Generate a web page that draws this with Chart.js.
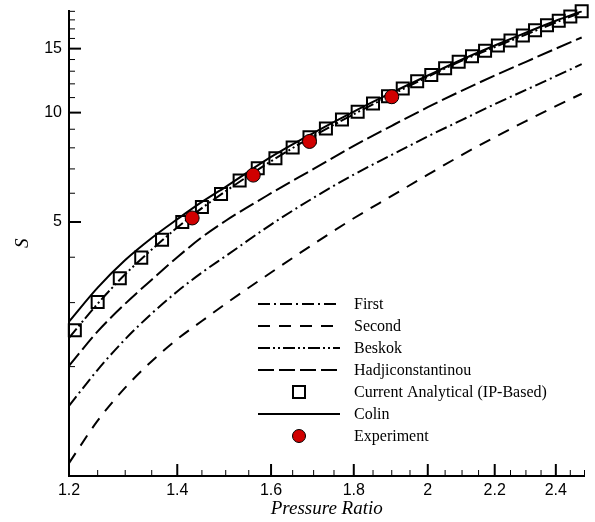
<!DOCTYPE html>
<html>
<head>
<meta charset="utf-8">
<script src="https://cdn.jsdelivr.net/npm/chart.js@4/dist/chart.umd.min.js"></script>
<style>
  html, body { margin: 0; padding: 0; background: #fff; }
</style>
</head>
<body>
<canvas id="myChart" width="595" height="522"></canvas>
<script>
// pressure ratio grid of the model curves
var pressure = [1.2, 1.25, 1.3, 1.35, 1.4, 1.45, 1.5, 1.6, 1.7, 1.8, 1.9, 2.0, 2.1, 2.2, 2.3, 2.4, 2.49];
var first  = [1.56, 1.96, 2.38, 2.80, 3.22, 3.63, 4.03, 4.92, 5.83, 6.75, 7.65, 8.60, 9.55, 10.55, 11.55, 12.6, 13.6];
var second = [1.085, 1.42, 1.75, 2.07, 2.38, 2.67, 2.98, 3.63, 4.35, 5.12, 5.90, 6.75, 7.65, 8.56, 9.48, 10.42, 11.27];
var beskok = [2.40, 2.98, 3.59, 4.20, 4.83, 5.46, 6.08, 7.35, 8.63, 9.90, 11.2, 12.55, 13.9, 15.15, 16.4, 17.7, 18.9];
var hadji  = [2.01, 2.50, 2.98, 3.47, 4.00, 4.54, 5.04, 6.00, 7.00, 8.10, 9.20, 10.35, 11.5, 12.65, 13.8, 15.0, 16.1];
var colin  = [2.66, 3.30, 3.93, 4.52, 5.09, 5.68, 6.25, 7.55, 8.80, 10.07, 11.35, 12.65, 14.0, 15.3, 16.6, 17.9, 19.0];

// current analytical (IP-based) markers
var currentP = [1.21, 1.25, 1.29, 1.33, 1.37, 1.41, 1.45, 1.49, 1.53, 1.57, 1.61, 1.65, 1.69, 1.73, 1.77, 1.81, 1.85,
                1.89, 1.93, 1.97, 2.01, 2.05, 2.09, 2.13, 2.17, 2.21, 2.25, 2.29, 2.33, 2.37, 2.41, 2.45, 2.49];
var currentS = [2.52, 3.01, 3.50, 3.99, 4.47, 5.00, 5.50, 5.97, 6.50, 7.03, 7.49, 8.02, 8.55, 9.04, 9.57, 10.06, 10.6,
                11.1, 11.65, 12.2, 12.7, 13.25, 13.8, 14.3, 14.8, 15.3, 15.8, 16.3, 16.85, 17.4, 17.9, 18.4, 19.0];

// experiment
var expP = [1.43, 1.56, 1.69, 1.90];
var expS = [5.13, 6.73, 8.33, 11.06];

// ticks
var xMajor = [1.2, 1.4, 1.6, 1.8, 2, 2.2, 2.4];
var xMinor = [1.25, 1.3, 1.35, 1.45, 1.5, 1.55, 1.65, 1.7, 1.75, 1.85, 1.9, 1.95, 2.05, 2.1, 2.15, 2.25, 2.3, 2.35, 2.45, 2.5];
var yMajor = [5, 10, 15];
var yMinor = [2, 3, 4, 6, 7, 8, 9, 11, 12, 13, 14, 16, 17, 18, 19];

function pairs(xs, ys) {
    var out = [];
    for (var i = 0; i < xs.length; i++) {
        out.push({x: xs[i], y: ys[i]});
    }
    return out;
}

function lineSet(label, values, dash) {
    return {
        label: label,
        data: pairs(pressure, values),
        showLine: true,
        borderColor: '#000',
        borderWidth: 2,
        borderDash: dash,
        pointRadius: 0,
        cubicInterpolationMode: 'monotone',
        fill: false
    };
}

// tick marks point into the plot, so they are drawn here
var innerTicks = {
    id: 'innerTicks',
    afterDatasetsDraw: function(chart) {
        var ctx = chart.ctx;
        var xs = chart.scales.x, ys = chart.scales.y;
        var a = chart.chartArea;
        ctx.save();
        ctx.strokeStyle = '#000';
        ctx.setLineDash([]);
        function xMarks(list, len, lw) {
            ctx.lineWidth = lw;
            list.forEach(function(v) {
                var px = xs.getPixelForValue(v);
                ctx.beginPath();
                ctx.moveTo(px, a.bottom);
                ctx.lineTo(px, a.bottom - len);
                ctx.stroke();
            });
        }
        function yMarks(list, len, lw) {
            ctx.lineWidth = lw;
            list.forEach(function(v) {
                var py = ys.getPixelForValue(v);
                ctx.beginPath();
                ctx.moveTo(a.left, py);
                ctx.lineTo(a.left + len, py);
                ctx.stroke();
            });
        }
        xMarks(xMajor, 12, 2);
        xMarks(xMinor, 6, 1);
        yMarks(yMajor, 12, 2);
        yMarks(yMinor, 6, 1);
        ctx.restore();
    }
};

// legend box inside the plot, lower right
var boxLegend = {
    id: 'boxLegend',
    afterDraw: function(chart) {
        var ctx = chart.ctx;
        ctx.save();
        ctx.font = '16px "Liberation Serif"';
        ctx.textBaseline = 'middle';
        ctx.fillStyle = '#000';
        chart.data.datasets.forEach(function(ds, i) {
            var y = 304 + i * 22;
            if (ds.showLine) {
                ctx.setLineDash(ds.borderDash || []);
                ctx.lineWidth = ds.borderWidth;
                ctx.strokeStyle = ds.borderColor;
                ctx.beginPath();
                ctx.moveTo(258, y);
                ctx.lineTo(340, y);
                ctx.stroke();
            } else if (ds.pointStyle === 'rect') {
                ctx.setLineDash([]);
                ctx.lineWidth = 2;
                ctx.strokeStyle = '#000';
                ctx.strokeRect(293, y - 6, 12, 12);
            } else {
                ctx.setLineDash([]);
                ctx.lineWidth = 1;
                ctx.strokeStyle = '#000';
                ctx.fillStyle = ds.backgroundColor;
                ctx.beginPath();
                ctx.arc(299, y, 6.5, 0, Math.PI * 2);
                ctx.fill();
                ctx.stroke();
            }
            ctx.fillStyle = '#000';
            ctx.fillText(ds.label, 354, y + 1);
        });
        ctx.restore();
    }
};

new Chart(document.getElementById('myChart'), {
    type: 'scatter',
    data: {
        datasets: [
            lineSet('First', first, [12, 4, 2, 4]),
            lineSet('Second', second, [12, 9]),
            lineSet('Beskok', beskok, [12, 3, 2, 3, 2, 3]),
            lineSet('Hadjiconstantinou', hadji, [16, 5]),
            {
                label: 'Current Analytical (IP-Based)',
                data: pairs(currentP, currentS),
                showLine: false,
                pointStyle: 'rect',
                pointRadius: 8.5,
                borderColor: '#000',
                borderWidth: 2,
                backgroundColor: 'rgba(0,0,0,0)',
                clip: false
            },
            lineSet('Colin', colin, []),
            {
                label: 'Experiment',
                data: pairs(expP, expS),
                showLine: false,
                pointStyle: 'circle',
                pointRadius: 7,
                borderColor: '#000',
                borderWidth: 1,
                backgroundColor: '#d00000',
                clip: false,
                order: -1
            }
        ]
    },
    options: {
        responsive: false,
        animation: false,
        layout: { padding: { top: 7, right: 10, left: 0, bottom: 0 } },
        plugins: {
            legend: { display: false },
            tooltip: { enabled: false }
        },
        scales: {
            x: {
                type: 'logarithmic',
                min: 1.2,
                max: 2.5,
                afterBuildTicks: function(s) { s.ticks = xMajor.map(function(v) { return {value: v}; }); },
                afterFit: function(s) {
                    s.height = 46;
                    s.paddingLeft = 0; s.paddingRight = 0; s.paddingTop = 0; s.paddingBottom = 0;
                },
                grid: { display: false, drawTicks: false },
                border: { display: true, color: '#000', width: 2 },
                ticks: {
                    color: '#000',
                    padding: 5,
                    autoSkip: false,
                    maxRotation: 0,
                    font: { family: 'Liberation Sans', size: 16 },
                    callback: function(v) { return String(v); }
                },
                title: {
                    display: true,
                    text: 'Pressure Ratio',
                    color: '#000',
                    font: { family: 'Liberation Serif', size: 19, style: 'italic' },
                    padding: { top: 0, bottom: 2 }
                }
            },
            y: {
                type: 'logarithmic',
                min: 1,
                max: 19.1,
                afterBuildTicks: function(s) { s.ticks = yMajor.map(function(v) { return {value: v}; }); },
                afterFit: function(s) {
                    s.width = 69;
                    s.paddingLeft = 0; s.paddingRight = 0; s.paddingTop = 0; s.paddingBottom = 0;
                },
                grid: { display: false, drawTicks: false },
                border: { display: true, color: '#000', width: 2 },
                ticks: {
                    color: '#000',
                    padding: 7,
                    autoSkip: false,
                    font: { family: 'Liberation Sans', size: 16 },
                    callback: function(v) { return String(v); }
                },
                title: {
                    display: true,
                    text: 'S',
                    color: '#000',
                    font: { family: 'Liberation Serif', size: 19, style: 'italic' },
                    padding: { top: 12, bottom: 0 }
                }
            }
        }
    },
    plugins: [innerTicks, boxLegend]
});
</script>
</body>
</html>
